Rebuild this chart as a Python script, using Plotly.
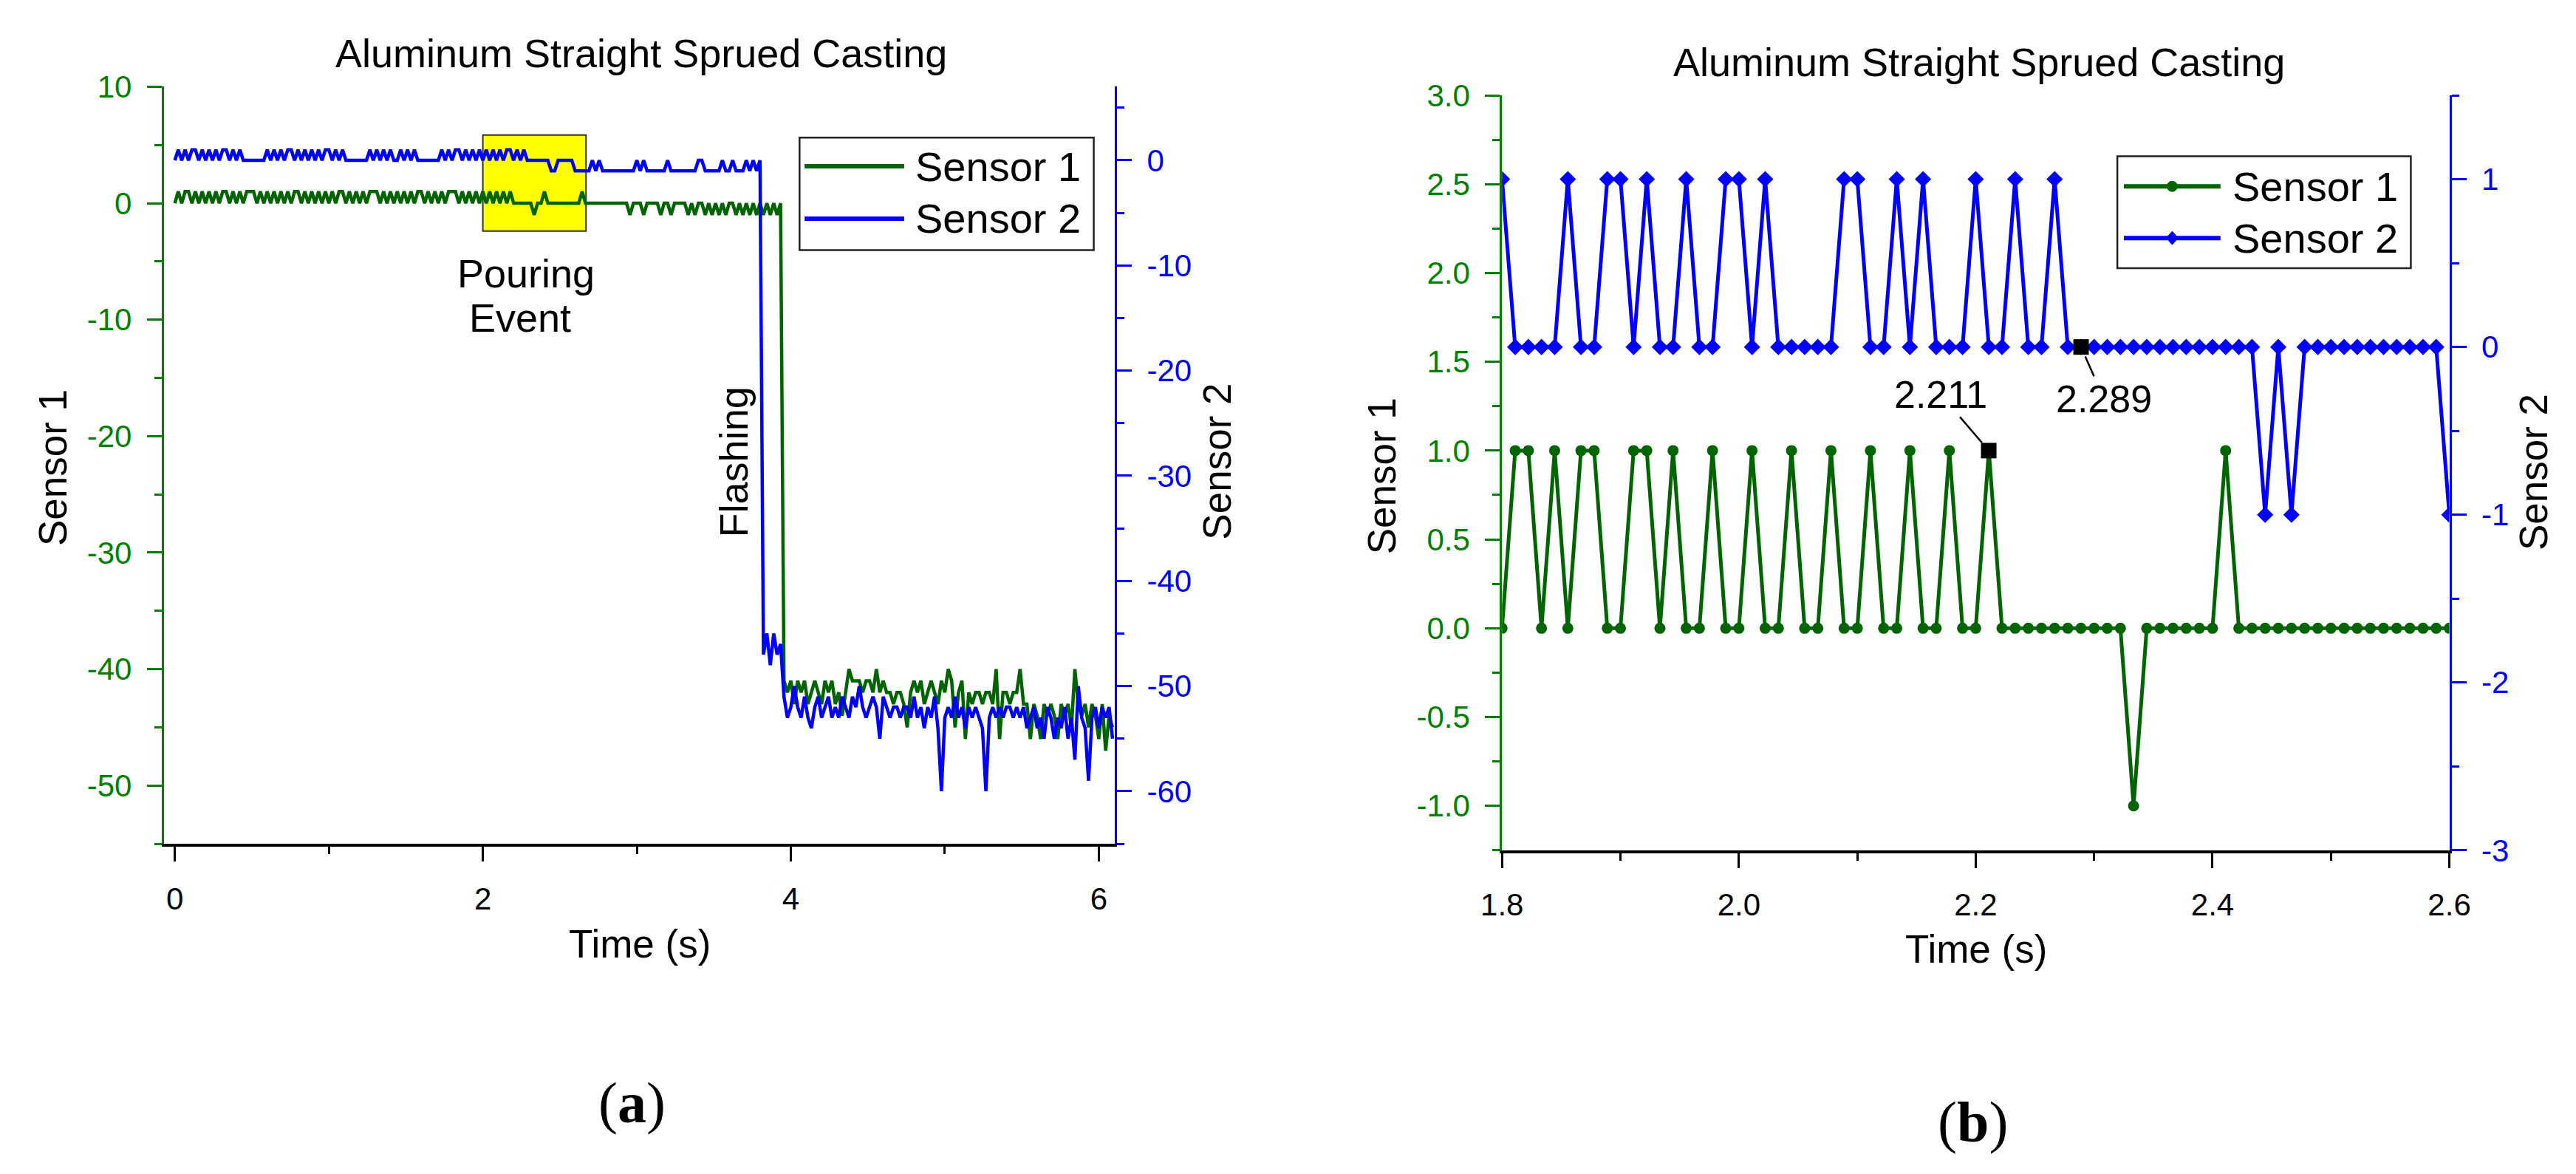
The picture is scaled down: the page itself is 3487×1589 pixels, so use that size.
import plotly.graph_objects as go

# ---------------- data ----------------
# (a) whole pour, one reading every 1/45 s starting at t = 0
RUN_T0 = 0.0
RUN_DT = 1 / 45

# Sensor 1 (left axis)
s1_run_start = [0, 1, 0, 1, 1, 0, 1, 0, 1, 0,
                1, 0, 1, 0, 1, 1, 0, 1, 0, 1,
                0, 1, 1, 1, 0, 1, 0, 1, 0, 1,
                0, 1, 0, 1, 0, 1, 1, 0, 1, 0,
                1, 0, 1, 0, 1, 0, 1, 0, 1, 1,
                0, 1, 0, 1, 0, 1, 0, 1, 1, 1,
                0, 1, 0, 1, 0, 1, 0, 1, 0, 1,
                0, 1, 1, 0, 1, 0, 1, 0, 1, 0,
                1, 1, 1, 0, 1, 0, 1, 0, 1, 0,
                1, 0, 1, 0, 1, 0, 1, 0, 1, 0]
s1_run_pour = [0, 0, 0, 0, 0, -1, 0, 0, 1, 0,
               0, 0, 0, 0, 0, 0, 0, 0, 0, 1,
               0, 0, 0, 0, 0, 0, 0, 0, 0, 0,
               0, 0, 0]
s1_run_wait = [-1, 0, 0, 0, -1, 0, 0, 0, 0, -1,
               0, 0, -1, 0, 0, 0, 0, -1, 0, -1,
               0, 0, -1, 0, -1, 0, -1, 0, -1, 0,
               0, -1, 0, -1, 0, -1, 0, -1, 0, -1,
               0, -1, 0, -1, 0]
s1_run_flash = [-41, -42, -41, -43, -41, -42, -41, -43, -42, -41,
                -42, -43, -41, -42, -41, -43, -42, -44, -42, -40,
                -41, -41, -41, -42, -41, -41, -42, -40, -42, -41,
                -42, -42, -43, -42, -42, -43, -45, -42, -41, -42,
                -41, -43, -42, -41, -42, -43, -41, -42, -40, -41,
                -45, -42, -41, -46, -42, -43, -42, -42, -43, -42,
                -42, -43, -40, -46, -42, -42, -43, -42, -42, -40,
                -43, -43, -46, -43, -44, -46, -43, -44, -43, -44,
                -46, -43, -44, -43, -45, -40, -43, -44, -43, -45,
                -43, -44, -46, -43, -47, -44, -45]

# Sensor 2 (right axis)
s2_run_start = [0,
                1, 0, 1, 0, 1, 1, 0, 1, 0, 1, 0, 1, 0, 1, 1, 0, 1, 0, 1,
                0, 0, 0, 0, 0, 0, 0,
                1, 0, 1, 0, 1, 0, 1, 1, 0, 1, 0, 1, 0, 1, 0, 1, 0, 1, 1, 0,
                1, 0, 1, 0,
                0, 0, 0, 0, 0, 0,
                1, 0, 1, 0, 1, 0, 1, 0, 0, 1, 0, 1, 0, 1, 0,
                0, 0, 0, 0, 0, 0,
                1, 0, 1, 0, 1, 1, 0, 1, 0, 1, 0, 1, 0, 1, 0, 1, 0, 1, 0, 1,
                1, 0, 1, 0, 1]
s2_run_pour = [0, 0, 0, 0, 0, 0, 0, -1, -1, 0, 0, 0, 0, 0]
s2_run_wait = [-1, -1, -1, -1, -1, 0, -1, 0, -1, -1,
               -1, -1, -1, -1, -1, -1, -1, -1, 0, -1,
               0, -1, -1, -1, -1, -1, -1, 0, -1, -1,
               -1, -1, -1, -1, -1, -1, 0, 0, -1, -1,
               -1, -1, -1, 0, -1, -1, 0, -1, -1, -1,
               0, -1, 0, -1, 0]
s2_run_drop = [-47, -45, -48, -45, -47, -46]
s2_run_flash = [-51, -53, -52, -50, -52, -53, -51, -53, -54, -52,
                -51, -53, -52, -51, -53, -52, -53, -51, -52, -53,
                -51, -52, -50, -52, -53, -52, -51, -52, -55, -51,
                -52, -53, -52, -52, -53, -52, -52, -53, -51, -53,
                -52, -54, -52, -53, -51, -54, -60, -53, -52, -53,
                -51, -53, -52, -54, -52, -53, -52, -53, -54, -60,
                -53, -52, -53, -52, -53, -52, -52, -53, -52, -53,
                -52, -54, -53, -52, -54, -53, -55, -52, -53, -55,
                -53, -54, -52, -55, -53, -57, -50, -53, -54, -59,
                -53, -52, -54, -52, -53, -52, -55]

sensor1_run = s1_run_start + s1_run_pour + s1_run_wait + s1_run_flash
sensor2_run = s2_run_start + s2_run_pour + s2_run_wait + s2_run_drop + s2_run_flash

# (b) close-up, one reading every 1/90 s starting at 1.8 s
ZOOM_T0 = 1.8
ZOOM_DT = 1 / 90
sensor1_zoom = [0, 1, 1, 0, 1, 0, 1, 1, 0, 0,
                1, 1, 0, 1, 0, 0, 1, 0, 0, 1,
                0, 0, 1, 0, 0, 1, 0, 0, 1, 0,
                0, 1, 0, 0, 1, 0, 0, 1, 0, 0,
                0, 0, 0, 0, 0, 0, 0, 0, -1, 0,
                0, 0, 0, 0, 0, 1, 0, 0, 0, 0,
                0, 0, 0, 0, 0, 0, 0, 0, 0, 0,
                0, 0, 0]
sensor2_zoom = [1, 0, 0, 0, 0, 1, 0, 0, 1, 1,
                0, 1, 0, 0, 1, 0, 0, 1, 1, 0,
                1, 0, 0, 0, 0, 0, 1, 1, 0, 0,
                1, 0, 1, 0, 0, 0, 1, 0, 0, 1,
                0, 0, 1, 0, 0, 0, 0, 0, 0, 0,
                0, 0, 0, 0, 0, 0, 0, 0, -1, 0,
                -1, 0, 0, 0, 0, 0, 0, 0, 0, 0,
                0, 0, -1]

# read-outs marked on (b)
mark1_t = [2.211]
mark1_v = [1.0]
mark2_t = [2.289]
mark2_v = [0.0]

# tick labels
run_x_ticks = [0, 2, 4, 6]
run_y1_ticks = [10, 0, -10, -20, -30, -40, -50]
run_y2_ticks = [0, -10, -20, -30, -40, -50, -60]
zoom_x_ticks = [1.8, 2.0, 2.2, 2.4, 2.6]
zoom_y1_ticks = [3.0, 2.5, 2.0, 1.5, 1.0, 0.5, 0.0, -0.5, -1.0]
zoom_y2_ticks = [1, 0, -1, -2, -3]

# ---------------- style ----------------
FONT = "Liberation Sans, Arial, sans-serif"
SERIF = "Liberation Serif, Times New Roman, serif"
GREEN = "#006400"
AXGREEN = "#008000"
BLUE = "#0000FF"
W, H = 3487, 1589


def lab(v, fmt):
    return fmt.format(v).replace("\u2212", "-")


def x_axis(rng, ticks, fmt, minor, domain, anchor):
    return dict(domain=domain, anchor=anchor, range=rng,
                tickmode="array", tickvals=ticks, ticktext=[lab(v, fmt) for v in ticks],
                ticks="outside", ticklen=20, tickwidth=3, tickcolor="black",
                minor=dict(tick0=ticks[0], dtick=minor, ticks="outside", ticklen=10,
                           tickwidth=3, tickcolor="black"),
                showline=True, linecolor="black", linewidth=4,
                showgrid=False, zeroline=False, ticklabelstandoff=14,
                tickfont=dict(family=FONT, size=42, color="black"))


def top_axis(rng, tick0, dtick, minor, base, anchor):
    return dict(overlaying=base, anchor=anchor, side="top", range=rng,
                tick0=tick0, dtick=dtick, ticks="inside", ticklen=20, tickwidth=3,
                tickcolor="black", showticklabels=False,
                minor=dict(tick0=tick0, dtick=minor, ticks="inside", ticklen=10,
                           tickwidth=3, tickcolor="black"),
                showline=True, linecolor="black", linewidth=4,
                showgrid=False, zeroline=False)


def y_axis(rng, ticks, fmt, minor, color, anchor, domain=None, overlaying=None, side="left"):
    ax = dict(anchor=anchor, range=rng, side=side,
              tickmode="array", tickvals=ticks, ticktext=[lab(v, fmt) for v in ticks],
              ticks="outside", ticklen=20, tickwidth=3, tickcolor=color,
              minor=dict(tick0=0, dtick=minor, ticks="outside", ticklen=10,
                         tickwidth=3, tickcolor=color),
              showline=True, linecolor=color, linewidth=3,
              showgrid=False, zeroline=False, ticklabelstandoff=12,
              tickfont=dict(family=FONT, size=42, color=color))
    if domain:
        ax["domain"] = domain
    if overlaying:
        ax["overlaying"] = overlaying
    return ax


fig = go.Figure()

# (a)
fig.add_trace(go.Scatter(y=sensor1_run, x0=RUN_T0, dx=RUN_DT, mode="lines", name="Sensor 1",
                         line=dict(color=GREEN, width=4.5), xaxis="x", yaxis="y", showlegend=False))
fig.add_trace(go.Scatter(y=sensor2_run, x0=RUN_T0, dx=RUN_DT, mode="lines", name="Sensor 2",
                         line=dict(color=BLUE, width=4.5), xaxis="x", yaxis="y2", showlegend=False))

# (b)
fig.add_trace(go.Scatter(y=sensor1_zoom, x0=ZOOM_T0, dx=ZOOM_DT, mode="lines+markers", name="Sensor 1",
                         line=dict(color=GREEN, width=5), marker=dict(symbol="circle", size=15, color=GREEN),
                         xaxis="x2", yaxis="y3", showlegend=False))
fig.add_trace(go.Scatter(x=mark1_t, y=mark1_v, mode="markers", marker=dict(symbol="square", size=21, color="black"),
                         xaxis="x2", yaxis="y3", showlegend=False))
fig.add_trace(go.Scatter(y=sensor2_zoom, x0=ZOOM_T0, dx=ZOOM_DT, mode="lines+markers", name="Sensor 2",
                         line=dict(color=BLUE, width=5), marker=dict(symbol="diamond", size=17, color=BLUE),
                         xaxis="x2", yaxis="y4", showlegend=False))
fig.add_trace(go.Scatter(x=mark2_t, y=mark2_v, mode="markers", marker=dict(symbol="square", size=21, color="black"),
                         xaxis="x2", yaxis="y4", showlegend=False))

dom_a_x = [188 / W, 1497 / W]
dom_a_y = [1 - 1145 / H, 1 - 89 / H]
dom_b_x = [2030 / W, 3334 / W]
dom_b_y = [1 - 1154 / H, 1 - 101 / H]

fig.update_layout(
    width=W, height=H, autosize=False,
    margin=dict(l=0, r=0, t=0, b=0),
    paper_bgcolor="white", plot_bgcolor="white",
    font=dict(family=FONT, color="black"),
    showlegend=False,
    xaxis=x_axis([-0.071, 6.104], run_x_ticks, "{:d}", 1, dom_a_x, "y"),
    xaxis3=top_axis([-0.071, 6.104], 0, 2, 1, "x", "y"),
    yaxis=y_axis([-55, 10], run_y1_ticks, "{:d}", 5, AXGREEN, "x", domain=dom_a_y),
    yaxis2=y_axis([-65, 7], run_y2_ticks, "{:d}", 5, BLUE, "x", overlaying="y", side="right"),
    xaxis2=x_axis([1.8, 2.6], zoom_x_ticks, "{:.1f}", 0.1, dom_b_x, "y3"),
    xaxis4=top_axis([1.8, 2.6], 1.8, 0.2, 0.1, "x2", "y3"),
    yaxis3=y_axis([-1.25, 3.0], zoom_y1_ticks, "{:.1f}", 0.25, AXGREEN, "x2", domain=dom_b_y),
    yaxis4=y_axis([-3, 1.5], zoom_y2_ticks, "{:d}", 0.5, BLUE, "x2", overlaying="y3", side="right"),
)

# pouring window
fig.add_shape(type="rect", xref="x", yref="y", x0=2.0, x1=2.67, y0=-2.4, y1=5.85,
              fillcolor="#FFFF00", line=dict(color="#333333", width=2), layer="below")

shapes = []
ann = []


def text(x, y, s, size, angle=0, family=FONT, xanchor="center"):
    ann.append(dict(x=x / W, y=1 - y / H, xref="paper", yref="paper", text=s, showarrow=False,
                    textangle=angle, xanchor=xanchor, yanchor="middle",
                    font=dict(family=family, size=size, color="black")))


# titles, axis titles, panel letters
text(845, 42, "Aluminum Straight Sprued Casting", 54)
text(2687, 55, "Aluminum Straight Sprued Casting", 54)
text(35, 620, "Sensor 1", 53, -90)
text(1638, 612, "Sensor 2", 53, -90)
text(843, 1284, "Time (s)", 53)
text(1864, 632, "Sensor 1", 53, -90)
text(3450, 627, "Sensor 2", 53, -90)
text(2683, 1292, "Time (s)", 53)
text(832, 1506, "(<b>a</b>)", 78, family=SERIF)
text(2678, 1533, "(<b>b</b>)", 78, family=SERIF)

# notes on (a)
ann.append(dict(x=2.28, y=-6.0, xref="x", yref="y", text="Pouring", showarrow=False,
                font=dict(family=FONT, size=54, color="black")))
ann.append(dict(x=2.24, y=-9.85, xref="x", yref="y", text="Event", showarrow=False,
                font=dict(family=FONT, size=54, color="black")))
ann.append(dict(x=3.63, y=-22.2, xref="x", yref="y", text="Flashing", showarrow=False, textangle=-90,
                font=dict(family=FONT, size=54, color="black")))

# read-out labels on (b)
ann.append(dict(x=mark1_t[0], y=mark1_v[0], xref="x2", yref="y3", text="2.211", showarrow=True,
                arrowhead=0, arrowwidth=2.5, arrowcolor="black", ax=-65, ay=-76, standoff=14,
                font=dict(family=FONT, size=52, color="black")))
ann.append(dict(x=mark2_t[0], y=mark2_v[0], xref="x2", yref="y4", text="2.289", showarrow=True,
                arrowhead=0, arrowwidth=2.5, arrowcolor="black", ax=31, ay=70, standoff=14,
                font=dict(family=FONT, size=52, color="black")))


# hand-made legends (long sample lines like the original)
def legend(box, line_x, rows, text_x, with_markers):
    x0, y0, x1, y1 = box
    shapes.append(dict(type="rect", xref="paper", yref="paper", x0=x0 / W, x1=x1 / W,
                       y0=1 - y1 / H, y1=1 - y0 / H, fillcolor="white",
                       line=dict(color="#222222", width=2.5), layer="above"))
    for (yy, color, label, sym) in rows:
        shapes.append(dict(type="line", xref="paper", yref="paper", x0=line_x[0] / W, x1=line_x[1] / W,
                           y0=1 - yy / H, y1=1 - yy / H, line=dict(color=color, width=6), layer="above"))
        if with_markers:
            mx = (line_x[0] + line_x[1]) / 2 / W
            if sym == "circle":
                shapes.append(dict(type="circle", xref="paper", yref="paper", xsizemode="pixel",
                                   ysizemode="pixel", xanchor=mx, yanchor=1 - yy / H,
                                   x0=-7, x1=7, y0=-7, y1=7, fillcolor=color,
                                   line=dict(color=color, width=1), layer="above"))
            else:
                shapes.append(dict(type="path", xref="paper", yref="paper", xsizemode="pixel",
                                   ysizemode="pixel", xanchor=mx, yanchor=1 - yy / H,
                                   path="M -8 0 L 0 9 L 8 0 L 0 -9 Z", fillcolor=color,
                                   line=dict(color=color, width=1), layer="above"))
        text(text_x, yy, label, 56, xanchor="left")


legend((1063, 160, 1468, 317), (1070, 1207),
       [(200, GREEN, "Sensor 1", "circle"), (273, BLUE, "Sensor 2", "diamond")], 1220, False)
legend((2877, 186, 3281, 342), (2886, 3019),
       [(228, GREEN, "Sensor 1", "circle"), (300, BLUE, "Sensor 2", "diamond")], 3033, True)

fig.update_layout(shapes=list(fig.layout.shapes) + shapes, annotations=ann)

fig.write_html("out.html")
